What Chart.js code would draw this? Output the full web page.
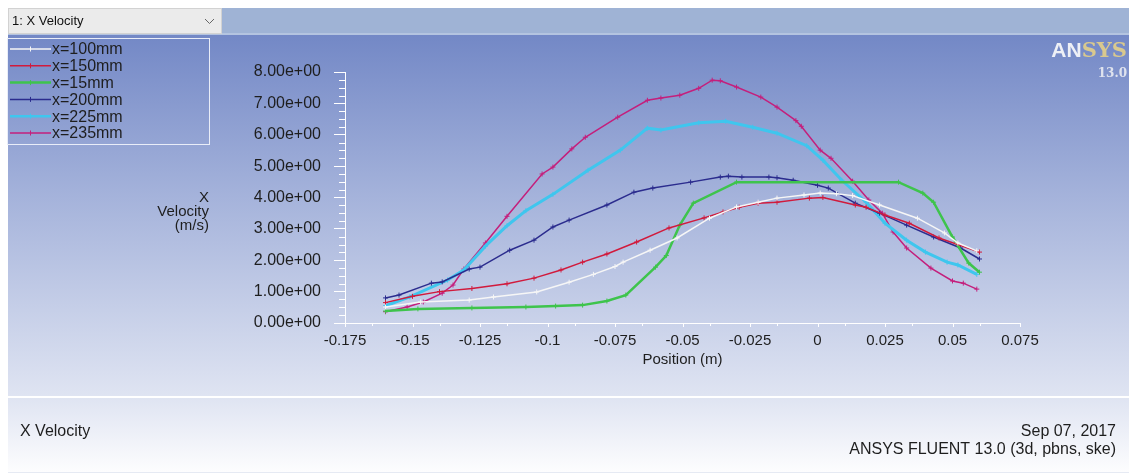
<!DOCTYPE html>
<html>
<head>
<meta charset="utf-8">
<title>X Velocity</title>
<script src="https://cdn.jsdelivr.net/npm/chart.js@4.4.1/dist/chart.umd.min.js"></script>
<style>
  html, body { margin: 0; padding: 0; background: #ffffff; }
  #plot { display: block; }
</style>
</head>
<body>
<canvas id="plot" width="1129" height="476"></canvas>
<script>
// series names, in legend order
const seriesNames = ["x=100mm", "x=150mm", "x=15mm", "x=200mm", "x=225mm", "x=235mm"];

// x=100mm
const pos100 = [-0.160, -0.147, -0.129, -0.120, -0.104, -0.092, -0.083, -0.075, -0.072, -0.062, -0.052, -0.040, -0.030, -0.022, -0.015, -0.005, 0.001, 0.007, 0.013, 0.023, 0.037, 0.047, 0.052, 0.059];
const vel100 = [0.51, 0.67, 0.73, 0.83, 0.99, 1.30, 1.55, 1.80, 1.94, 2.32, 2.71, 3.34, 3.70, 3.85, 3.98, 4.08, 4.14, 4.12, 4.06, 3.76, 3.34, 2.87, 2.55, 2.30];

// x=150mm
const pos150 = [-0.160, -0.150, -0.140, -0.128, -0.115, -0.105, -0.095, -0.087, -0.078, -0.067, -0.055, -0.042, -0.035, -0.029, -0.022, -0.015, -0.003, 0.002, 0.014, 0.018, 0.025, 0.034, 0.045, 0.060];
const vel150 = [0.65, 0.85, 1.00, 1.10, 1.25, 1.43, 1.69, 1.94, 2.20, 2.58, 3.03, 3.35, 3.54, 3.69, 3.82, 3.85, 3.98, 4.00, 3.76, 3.69, 3.44, 3.18, 2.71, 2.26];

// x=15mm
const pos15 = [-0.160, -0.148, -0.128, -0.108, -0.097, -0.087, -0.078, -0.071, -0.060, -0.056, -0.051, -0.046, -0.030, 0.030, 0.039, 0.043, 0.050, 0.056, 0.060];
const vel15 = [0.38, 0.45, 0.48, 0.51, 0.54, 0.57, 0.70, 0.89, 1.78, 2.15, 3.12, 3.82, 4.49, 4.49, 4.14, 3.85, 2.74, 1.91, 1.62];

// x=200mm
const pos200 = [-0.160, -0.155, -0.143, -0.139, -0.129, -0.125, -0.114, -0.105, -0.098, -0.092, -0.078, -0.068, -0.061, -0.047, -0.036, -0.033, -0.028, -0.018, -0.015, -0.009, 0.000, 0.004, 0.014, 0.023, 0.033, 0.043, 0.053, 0.060];
const vel200 = [0.80, 0.89, 1.27, 1.31, 1.72, 1.78, 2.32, 2.64, 3.06, 3.28, 3.76, 4.17, 4.30, 4.49, 4.65, 4.68, 4.65, 4.65, 4.63, 4.55, 4.39, 4.30, 3.82, 3.50, 3.12, 2.74, 2.39, 2.04];

// x=225mm
const pos225 = [-0.160, -0.151, -0.137, -0.131, -0.123, -0.115, -0.108, -0.098, -0.085, -0.073, -0.063, -0.058, -0.044, -0.034, -0.024, -0.015, -0.004, 0.002, 0.009, 0.018, 0.025, 0.033, 0.040, 0.048, 0.052, 0.059];
const vel225 = [0.55, 0.83, 1.37, 1.69, 2.45, 3.10, 3.58, 4.10, 4.87, 5.51, 6.21, 6.15, 6.38, 6.43, 6.24, 6.05, 5.65, 5.19, 4.55, 3.85, 3.18, 2.64, 2.26, 1.94, 1.85, 1.55];

// x=235mm
const pos235 = [-0.160, -0.152, -0.146, -0.139, -0.135, -0.131, -0.123, -0.115, -0.102, -0.098, -0.091, -0.086, -0.074, -0.063, -0.058, -0.051, -0.044, -0.039, -0.036, -0.030, -0.021, -0.015, -0.008, -0.006, 0.001, 0.005, 0.013, 0.019, 0.024, 0.028, 0.033, 0.042, 0.050, 0.054, 0.059];
const vel235 = [0.36, 0.51, 0.67, 0.95, 1.21, 1.72, 2.55, 3.40, 4.75, 4.97, 5.55, 5.92, 6.56, 7.10, 7.17, 7.26, 7.48, 7.74, 7.72, 7.52, 7.20, 6.88, 6.45, 6.27, 5.51, 5.25, 4.52, 3.92, 3.50, 2.90, 2.39, 1.75, 1.34, 1.27, 1.08];

// axis ranges
const xRange = [-0.175, 0.075];
const xStep = 0.025;
const yRange = [0, 8];
const yStep = 1;

const positions = [pos100, pos150, pos15, pos200, pos225, pos235];
const velocities = [vel100, vel150, vel15, vel200, vel225, vel235];

// styles
const lineColors = ["#f6f6f6", "#d11a3c", "#3ec44c", "#2b2c8e", "#3fc6ee", "#c41f7c"];
const lineWidths = [1.5, 1.5, 2.5, 1.5, 3, 1.5];
const FONT = "'Liberation Sans', Arial, sans-serif";
const TEXT = "#1e1e1e";

function sci(v) {
  if (Math.abs(v) < 1e-12) return "0.00e+00";
  const e = Math.floor(Math.log10(Math.abs(v)));
  const m = v / Math.pow(10, e);
  return m.toFixed(2) + "e" + (e < 0 ? "-" : "+") + String(Math.abs(e)).padStart(2, "0");
}

const datasets = seriesNames.map((name, i) => ({
  label: name,
  data: positions[i].map((x, j) => ({ x: x, y: velocities[i][j] })),
  showLine: true,
  borderColor: lineColors[i],
  backgroundColor: lineColors[i],
  borderWidth: lineWidths[i],
  pointStyle: "cross",
  pointRadius: 2.5,
  pointBorderWidth: 1,
  pointHoverRadius: 2.5,
  tension: 0
}));

// window backdrop, legend, titles and logo
const backdrop = {
  id: "backdrop",
  beforeDraw(chart) {
    const ctx = chart.ctx;
    const W = chart.width;
    ctx.save();
    ctx.fillStyle = "#ffffff";
    ctx.fillRect(0, 0, W, chart.height);

    // top bar
    ctx.fillStyle = "#9fb3d5";
    ctx.fillRect(8, 8, W - 8, 26);
    ctx.fillStyle = "#b4c4e0";
    ctx.fillRect(8, 33, W - 8, 2);

    // graphics area
    let g = ctx.createLinearGradient(0, 35, 0, 396);
    g.addColorStop(0, "#7388c6");
    g.addColorStop(0.45, "#a5b3db");
    g.addColorStop(1, "#dfe4f2");
    ctx.fillStyle = g;
    ctx.fillRect(8, 35, W - 8, 361);

    // separator + lower panel
    ctx.fillStyle = "#ffffff";
    ctx.fillRect(8, 396, W - 8, 2);
    g = ctx.createLinearGradient(0, 398, 0, 472);
    g.addColorStop(0, "#dfe4f2");
    g.addColorStop(1, "#fdfdfe");
    ctx.fillStyle = g;
    ctx.fillRect(8, 398, W - 8, 74);
    ctx.fillStyle = "#e6eaf3";
    ctx.fillRect(8, 472, W - 8, 1);

    // dropdown
    ctx.fillStyle = "#ebebeb";
    ctx.fillRect(8, 8, 214, 26);
    ctx.strokeStyle = "#d2d2d2";
    ctx.lineWidth = 1;
    ctx.strokeRect(8.5, 8.5, 213, 25);
    ctx.fillStyle = "#111";
    ctx.font = "13px " + FONT;
    ctx.textBaseline = "middle";
    ctx.textAlign = "left";
    ctx.fillText("1: X Velocity", 12, 21);
    ctx.strokeStyle = "#666";
    ctx.beginPath();
    ctx.moveTo(205, 19);
    ctx.lineTo(209.5, 23.5);
    ctx.lineTo(214, 19);
    ctx.stroke();

    // logo
    ctx.textAlign = "right";
    ctx.textBaseline = "alphabetic";
    ctx.font = "bold 21px Georgia, 'DejaVu Serif', serif";
    ctx.fillStyle = "#d9c98e";
    const sysW = ctx.measureText("SYS").width;
    ctx.fillText("SYS", 1127, 57);
    ctx.font = "bold 21px " + FONT;
    ctx.fillStyle = "#eef0f6";
    ctx.fillText("AN", 1127 - sysW, 57);
    ctx.font = "bold 12px 'DejaVu Serif', serif";
    ctx.fillStyle = "#dfe3ee";
    ctx.fillText("13.0", 1127, 77);

    // footer texts
    ctx.fillStyle = TEXT;
    ctx.font = "16px " + FONT;
    ctx.textBaseline = "middle";
    ctx.textAlign = "left";
    ctx.fillText("X Velocity", 20, 432);
    ctx.textAlign = "right";
    ctx.fillText("Sep 07, 2017", 1116, 432);
    ctx.fillText("ANSYS FLUENT 13.0 (3d, pbns, ske)", 1116, 450);
    ctx.restore();
  },
  afterDraw(chart) {
    const ctx = chart.ctx;
    const xs = chart.scales.x, ys = chart.scales.y;
    const area = chart.chartArea;
    ctx.save();
    ctx.strokeStyle = "#ffffff";
    ctx.lineWidth = 1;
    // minor y ticks
    ctx.beginPath();
    for (let v = yRange[0]; v <= yRange[1] + 1e-9; v += 0.25) {
      if (Math.abs(v - Math.round(v)) < 1e-9) continue;
      const py = Math.round(ys.getPixelForValue(v)) + 0.5;
      ctx.moveTo(area.left - 6, py);
      ctx.lineTo(area.left, py);
    }
    // x ticks
    for (let k = 0; ; k++) {
      const v = xRange[0] + k * xStep;
      if (v > xRange[1] + 1e-9) break;
      const px = Math.round(xs.getPixelForValue(v)) + 0.5;
      ctx.moveTo(px, area.bottom);
      ctx.lineTo(px, area.bottom + 4);
      const vm = v + 0.01;
      if (vm < xRange[1]) {
        const pm = Math.round(xs.getPixelForValue(vm)) + 0.5;
        ctx.moveTo(pm, area.bottom);
        ctx.lineTo(pm, area.bottom + 3);
      }
    }
    ctx.stroke();

    // y axis title
    ctx.fillStyle = TEXT;
    ctx.font = "15px " + FONT;
    ctx.textAlign = "right";
    ctx.textBaseline = "middle";
    ctx.fillText("X", 209, 198);
    ctx.fillText("Velocity", 209, 212);
    ctx.fillText("(m/s)", 209, 226);

    // legend box
    ctx.strokeStyle = "#e9edf8";
    ctx.strokeRect(7.5, 38.5, 202, 106);
    ctx.font = "16px " + FONT;
    ctx.textAlign = "left";
    chart.data.datasets.forEach((ds, i) => {
      const cy = 49 + i * 16.8;
      ctx.strokeStyle = ds.borderColor;
      ctx.lineWidth = Math.min(ds.borderWidth, 2.5);
      ctx.beginPath();
      ctx.moveTo(10, cy);
      ctx.lineTo(51, cy);
      ctx.stroke();
      ctx.lineWidth = 1;
      ctx.beginPath();
      ctx.moveTo(30.5, cy - 2.5);
      ctx.lineTo(30.5, cy + 2.5);
      ctx.stroke();
      ctx.fillStyle = TEXT;
      ctx.fillText(ds.label, 52, cy + 1);
    });
    ctx.restore();
  }
};

new Chart(document.getElementById("plot"), {
  type: "scatter",
  data: { datasets: datasets },
  plugins: [backdrop],
  options: {
    responsive: false,
    animation: false,
    devicePixelRatio: 1,
    layout: { padding: { left: 0, top: 72, right: 109, bottom: 103 } },
    plugins: {
      legend: { display: false },
      tooltip: { enabled: false }
    },
    scales: {
      x: {
        type: "linear",
        min: xRange[0],
        max: xRange[1],
        afterFit: s => { s.height = 50; },
        afterBuildTicks: s => {
          const t = [];
          for (let k = 0; ; k++) {
            const v = xRange[0] + k * xStep;
            if (v > xRange[1] + 1e-9) break;
            t.push({ value: v });
          }
          s.ticks = t;
        },
        grid: { drawOnChartArea: false, drawTicks: false },
        border: { display: true, color: "#ffffff", width: 1 },
        ticks: {
          padding: 9,
          color: TEXT,
          font: { family: FONT, size: 15 },
          maxRotation: 0,
          autoSkip: false,
          callback: v => String(parseFloat(Number(v).toFixed(3)))
        },
        title: {
          display: true,
          text: "Position (m)",
          color: TEXT,
          font: { family: FONT, size: 15 },
          padding: { top: 0, bottom: 4 }
        }
      },
      y: {
        type: "linear",
        min: yRange[0],
        max: yRange[1],
        afterFit: s => { s.width = 345; },
        grid: { drawOnChartArea: false, drawTicks: true, tickLength: 11, color: "#ffffff" },
        border: { display: true, color: "#ffffff", width: 1 },
        ticks: {
          stepSize: yStep,
          padding: 13,
          color: TEXT,
          font: { family: FONT, size: 16 },
          callback: v => sci(v)
        }
      }
    }
  }
});
</script>
</body>
</html>
